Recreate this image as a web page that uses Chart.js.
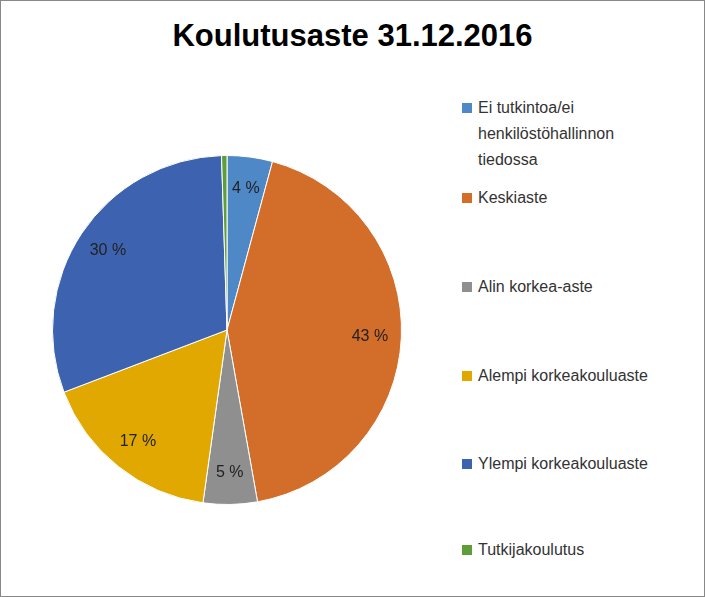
<!DOCTYPE html>
<html><head><meta charset="utf-8">
<script src="https://cdn.jsdelivr.net/npm/chart.js@4"></script>
<style>
body{margin:0;background:#fff;font-family:"Liberation Sans","Open Sans",sans-serif;}
#frame{position:absolute;left:0;top:0;width:703px;height:595px;border:1px solid #888;}
#title{position:absolute;left:0;width:705px;top:18px;text-align:center;font-size:31px;font-weight:bold;color:#000;}
#pie{position:absolute;left:52px;top:155px;width:350px;height:350px;}
#legend{position:absolute;left:462px;top:0;}
.it{position:absolute;left:0;width:240px;font-size:16px;line-height:26px;color:#333;}
.mk{position:absolute;left:0;top:8px;width:10px;height:10px;}
.tx{margin-left:16px;}
</style></head><body>
<div id="frame"></div>
<div id="title">Koulutusaste 31.12.2016</div>
<div id="pie"><canvas id="c"></canvas></div>
<div id="legend"></div>
<script>
const categories=["Ei tutkintoa/ei henkilöstöhallinnon tiedossa","Keskiaste","Alin korkea-aste","Alempi korkeakouluaste","Ylempi korkeakouluaste","Tutkijakoulutus"];
const legendLines=[["Ei tutkintoa/ei","henkilöstöhallinnon","tiedossa"],["Keskiaste"],["Alin korkea-aste"],["Alempi korkeakouluaste"],["Ylempi korkeakouluaste"],["Tutkijakoulutus"]];
const values=[4.2,43.0,5.0,17.0,30.3,0.5];
const colors=["#4F88C6","#D26D2A","#8F8F8F","#E0A800","#3D62AF","#5E9E3A"];
const legendTops=[95,185,274,363,451,537];
const lg=document.getElementById('legend');
legendLines.forEach((l,i)=>{const d=document.createElement('div');d.className='it';d.style.top=legendTops[i]+'px';
d.innerHTML='<div class="mk" style="background:'+colors[i]+'"></div><div class="tx">'+l.join('<br>')+'</div>';lg.appendChild(d);});
const lbl={id:'lbl',afterDatasetsDraw(ch){const ctx=ch.ctx;const meta=ch.getDatasetMeta(0);ctx.save();ctx.font='16px "Liberation Sans",sans-serif';ctx.fillStyle='#222';ctx.textAlign='center';ctx.textBaseline='middle';
meta.data.forEach((a,i)=>{if(values[i]<1)return;const m=(a.startAngle+a.endAngle)/2;const r=a.outerRadius*0.82;ctx.fillText(Math.round(values[i])+' %',a.x+Math.cos(m)*r,a.y+Math.sin(m)*r);});ctx.restore();}};
new Chart(document.getElementById('c'),{type:'pie',data:{labels:categories,datasets:[{data:values,backgroundColor:colors,borderColor:'#fff',borderWidth:1}]},
options:{responsive:true,maintainAspectRatio:false,animation:false,layout:{padding:0},plugins:{legend:{display:false},tooltip:{enabled:false}}},plugins:[lbl]});
</script></body></html>
